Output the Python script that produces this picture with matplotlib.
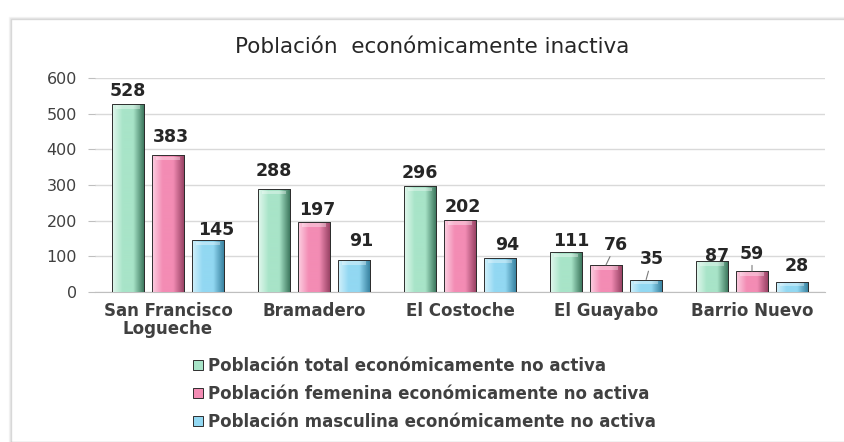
import numpy as np
import matplotlib.pyplot as plt
from matplotlib.patches import Rectangle
from matplotlib.colors import LinearSegmentedColormap

categories = ['San Francisco\nLogueche', 'Bramadero', 'El Costoche', 'El Guayabo', 'Barrio Nuevo']
total = [528, 288, 296, 111, 87]
femenina = [383, 197, 202, 76, 59]
masculina = [145, 91, 94, 35, 28]
series_names = ['Población total económicamente no activa',
                'Población femenina económicamente no activa',
                'Población masculina económicamente no activa']
yticks = [0, 100, 200, 300, 400, 500, 600]

colors = ['#a8e4c8', '#f38cb4', '#92d8f2']
lights = ['#e2f8ee', '#fcd0e2', '#d2f1fc']
darks = ['#3f7a60', '#9a4466', '#3a84a2']

W, H = 844, 442
fig = plt.figure(figsize=(W / 100, H / 100), dpi=100)
fig.patch.set_facecolor('white')

# marco del gráfico con sombra suave
for i, a in enumerate([0.35, 0.2, 0.1]):
    fig.add_artist(Rectangle(((11 - i) / W, 0), 1, 1 - (19 - i) / H, transform=fig.transFigure,
                             fill=False, edgecolor='#9a9a9a', lw=1.0, alpha=a))

ax = fig.add_axes([95 / W, 1 - 292 / H, 730 / W, 214 / H])
x = np.arange(len(categories))
bw = 0.215
step = 0.275

grad = np.linspace(0, 1, 64).reshape(1, -1)
for k, vals in enumerate([total, femenina, masculina]):
    cmap = LinearSegmentedColormap.from_list('b%d' % k, [lights[k], colors[k], colors[k], darks[k]])
    bars = ax.bar(x + (k - 1) * step, vals, width=bw, color=colors[k],
                  edgecolor='#2e2e2e', linewidth=0.7, zorder=3, label=series_names[k])
    for b in bars:
        bx, by, bwid, bh = b.get_x(), b.get_y(), b.get_width(), b.get_height()
        im = ax.imshow(grad, cmap=cmap, aspect='auto', extent=[bx, bx + bwid, by, by + bh],
                       zorder=3.5, interpolation='bicubic')
        im.set_clip_path(b)
        # bisel superior
        cap = min(14, bh * 0.35)
        ax.add_patch(Rectangle((bx + bwid * 0.12, by + bh - cap), bwid * 0.76, cap * 0.75,
                               facecolor='white', alpha=0.35, lw=0, zorder=4))
        ax.add_patch(Rectangle((bx, by), bwid, bh, fill=False, edgecolor='#2e2e2e', lw=0.7, zorder=5))

# etiquetas de datos (desplazamiento en puntos)
offsets = {(0, 0): (0, 3), (0, 1): (2, 7), (0, 2): (6, 1),
           (1, 0): (0, 7), (1, 1): (2, 2), (1, 2): (5, 7),
           (2, 0): (0, 3), (2, 1): (2, 3), (2, 2): (5, 3),
           (3, 0): (4, 2), (3, 1): (7, 8), (3, 2): (4, 8),
           (4, 0): (4, -3), (4, 1): (0, 6), (4, 2): (3, 5)}
leaders = {(3, 1), (3, 2), (4, 1)}
for k, vals in enumerate([total, femenina, masculina]):
    for i, v in enumerate(vals):
        dx, dy = offsets.get((i, k), (0, 4))
        xp = x[i] + (k - 1) * step
        arrow = None
        if (i, k) in leaders:
            arrow = dict(arrowstyle='-', color='#7a7a7a', lw=0.8, shrinkA=0, shrinkB=0)
        ax.annotate(str(v), xy=(xp, v), xytext=(dx, dy), textcoords='offset points',
                    ha='center', va='bottom', fontsize=12.5, fontweight='bold', color='#262626',
                    arrowprops=arrow, zorder=6)

ax.set_xlim(-0.5, len(categories) - 0.5)
ax.set_ylim(0, 600)
ax.set_yticks(yticks)
ax.set_yticklabels([str(t) for t in yticks], fontsize=11.5, color='#404040')
ax.set_xticks(x)
ax.set_xticklabels(categories, fontsize=12, fontweight='bold', color='#404040', linespacing=1.0)
ax.tick_params(axis='x', length=0, pad=7)
ax.tick_params(axis='y', length=5, color='#bfbfbf', pad=8)
ax.grid(axis='y', color='#d9d9d9', lw=1, zorder=0)
ax.set_axisbelow(True)
for s in ['top', 'right', 'left']:
    ax.spines[s].set_visible(False)
ax.spines['bottom'].set_color('#bfbfbf')

fig.text(432 / W, 1 - 47 / H, 'Población  económicamente inactiva', ha='center', va='center',
         fontsize=15.5, color='#262626')

handles, labels = ax.get_legend_handles_labels()
leg = fig.legend(handles, labels, loc='upper left', bbox_to_anchor=(178 / W, 1 - 342 / H),
                 frameon=False, handlelength=0.6, handleheight=0.6, handletextpad=0.3,
                 labelspacing=0.6, prop={'size': 12, 'weight': 'bold'})
for t in leg.get_texts():
    t.set_color('#404040')

fig.savefig('out.png', dpi=100)
